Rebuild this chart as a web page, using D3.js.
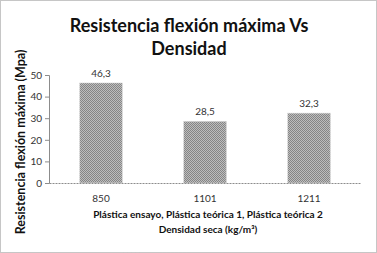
<!DOCTYPE html>
<html><head><meta charset="utf-8">
<script src="https://cdn.jsdelivr.net/npm/d3@7"></script>
<style>html,body{margin:0;padding:0;background:#fff;}svg{display:block;}</style>
</head><body>
<script>
const categories = ["850", "1101", "1211"];
const values = [46.3, 28.5, 32.3];
const valueLabels = ["46,3", "28,5", "32,3"];
const yTicks = [0, 10, 20, 30, 40, 50];
const title = ["Resistencia flexión máxima Vs", "Densidad"];
const yTitle = "Resistencia flexión máxima (Mpa)";
const xTitle = ["Plástica ensayo, Plástica teórica 1, Plástica teórica 2", "Densidad seca (kg/m³)"];

const W = 377, H = 253;
const font = "Lato, 'Open Sans', sans-serif";
const svg = d3.select("body").append("svg").attr("width", W).attr("height", H);

const defs = svg.append("defs");
const pat = defs.append("pattern").attr("id", "chk").attr("width", 2).attr("height", 2)
  .attr("patternUnits", "userSpaceOnUse");
pat.append("rect").attr("width", 2).attr("height", 2).attr("fill", "#bdbdbd");
pat.append("rect").attr("width", 1).attr("height", 1).attr("fill", "#858585");
pat.append("rect").attr("x", 1).attr("y", 1).attr("width", 1).attr("height", 1).attr("fill", "#858585");

svg.append("rect").attr("x", 0.5).attr("y", 0.5).attr("width", W - 1).attr("height", H - 1)
  .attr("fill", "#fff").attr("stroke", "#8c8c8c").attr("stroke-dasharray", "1,1");

const m = {left: 49, right: 16, top: 75, bottom: 70};
const x = d3.scaleBand().domain(categories).range([m.left, W - m.right]).paddingInner(0.59).paddingOuter(0.295);
const y = d3.scaleLinear().domain([0, 50]).range([H - m.bottom, m.top]);

// title
svg.append("text").attr("text-anchor", "middle")
  .attr("font-family", font).attr("font-weight", "bold").attr("font-size", 18).attr("fill", "#111")
  .selectAll("tspan").data(title).join("tspan").attr("x", 189).attr("y", (d, i) => 32 + i * 23).text(d => d);

// bars
svg.append("g").selectAll("rect").data(values).join("rect")
  .attr("x", (d, i) => x(categories[i])).attr("width", x.bandwidth())
  .attr("y", d => y(d)).attr("height", d => y(0) - y(d))
  .attr("fill", "url(#chk)").attr("stroke", "#d0d0d0").attr("stroke-dasharray", "1,1").attr("stroke-width", 1);

// value labels
svg.append("g").selectAll("text").data(values).join("text")
  .attr("x", (d, i) => x(categories[i]) + x.bandwidth() / 2).attr("y", d => y(d) - 6)
  .attr("text-anchor", "middle").attr("font-family", font).attr("font-size", 10).attr("fill", "#333")
  .text((d, i) => valueLabels[i]);

// y axis
const ya = svg.append("g").attr("transform", `translate(${m.left},0)`)
  .call(d3.axisLeft(y).tickValues(yTicks).tickSize(4).tickPadding(3).tickFormat(d3.format("d")));
ya.select(".domain").attr("stroke", "#8c8c8c");
ya.selectAll(".tick line").attr("stroke", "#8c8c8c");
ya.selectAll("text").attr("font-family", font).attr("font-size", 10).attr("fill", "#333");

// x axis
const xa = svg.append("g").attr("transform", `translate(0,${y(0)})`)
  .call(d3.axisBottom(x).tickSize(0).tickPadding(12));
xa.select(".domain").attr("stroke", "#8c8c8c").attr("stroke-dasharray", "2,1");
xa.selectAll("text").attr("font-family", font).attr("font-size", 10).attr("fill", "#333");

// x title
svg.append("text").attr("text-anchor", "middle")
  .attr("font-family", font).attr("font-weight", "bold").attr("font-size", 10).attr("fill", "#111")
  .selectAll("tspan").data(xTitle).join("tspan").attr("x", 208).attr("y", (d, i) => 218 + i * 15).text(d => d);

// y title
svg.append("text").attr("transform", "translate(25,142) rotate(-90)").attr("text-anchor", "middle")
  .attr("font-family", font).attr("font-weight", "bold").attr("font-size", 12.5).attr("fill", "#111")
  .text(yTitle);
</script>
</body></html>
